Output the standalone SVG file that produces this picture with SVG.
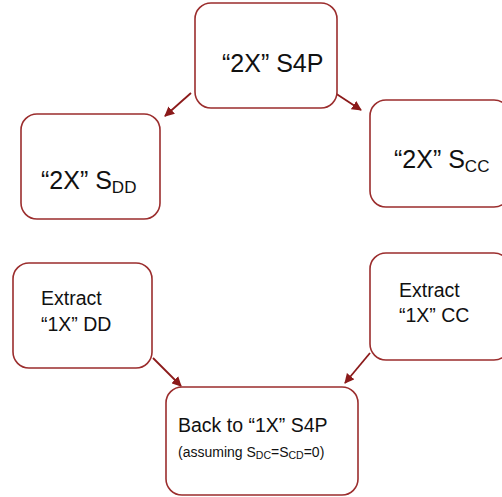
<svg xmlns="http://www.w3.org/2000/svg" width="502" height="497" viewBox="0 0 502 497">
  <defs>
    <marker id="ah" viewBox="0 0 10 10" refX="9" refY="5" markerWidth="5.5" markerHeight="5.5" orient="auto" markerUnits="strokeWidth">
      <path d="M0,0 L10,5 L0,10 z" fill="#8b1a1a"/>
    </marker>
  </defs>
  <style>
    .box { fill: #ffffff; stroke: #9b2d2d; stroke-width: 1.6; }
    .t { font-family: "Liberation Sans", Arial, sans-serif; fill: #111111; }
    .big { font-size: 25px; }
    .mid { font-size: 19.5px; }
    .small { font-size: 14px; }
    .conn { stroke: #8b1a1a; stroke-width: 1.8; fill: none; marker-end: url(#ah); }
  </style>
  <rect width="502" height="497" fill="#ffffff"/>
  <g id="connectors">
    <line class="conn" x1="191" y1="93" x2="165" y2="116"/>
    <line class="conn" x1="335" y1="93" x2="361" y2="110"/>
    <line class="conn" x1="153" y1="358" x2="181" y2="386"/>
    <line class="conn" x1="370" y1="353" x2="345" y2="383"/>
  </g>
  <g id="n-2x-s4p">
    <rect class="box" x="195" y="3" width="142" height="105" rx="16"/>
    <text class="t big" x="222" y="72">“2X” S4P</text>
  </g>
  <g id="n-2x-sdd">
    <rect class="box" x="21" y="114" width="139" height="105" rx="16"/>
    <text class="t big" x="41" y="189">“2X” S<tspan font-size="17" dy="4">DD</tspan></text>
  </g>
  <g id="n-2x-scc">
    <rect class="box" x="370" y="100" width="140" height="107" rx="16"/>
    <text class="t big" x="394" y="168">“2X” S<tspan font-size="17" dy="4">CC</tspan></text>
  </g>
  <g id="n-extract-dd">
    <rect class="box" x="13" y="263" width="139" height="105" rx="16"/>
    <text class="t mid" x="41" y="305">Extract</text>
    <text class="t mid" x="41" y="331">“1X” DD</text>
  </g>
  <g id="n-extract-cc">
    <rect class="box" x="370" y="253" width="140" height="107" rx="16"/>
    <text class="t mid" x="399" y="297">Extract</text>
    <text class="t mid" x="399" y="322">“1X” CC</text>
  </g>
  <g id="n-back">
    <rect class="box" x="166" y="387" width="192" height="108" rx="16"/>
    <text class="t mid" x="178" y="432">Back to “1X” S4P</text>
    <text class="t small" x="178" y="457">(assuming S<tspan font-size="10.5" dy="2">DC</tspan><tspan dy="-2">=S</tspan><tspan font-size="10.5" dy="2">CD</tspan><tspan dy="-2">=0)</tspan></text>
  </g>
</svg>
